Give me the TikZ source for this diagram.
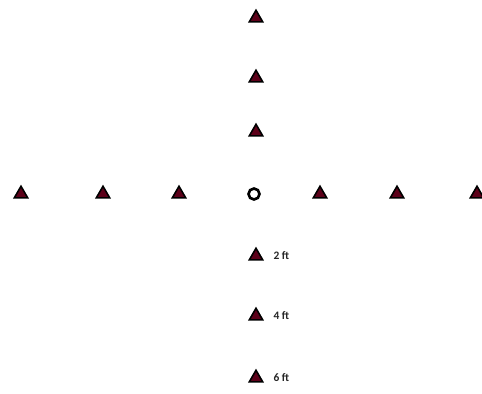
\documentclass[tikz,border=0pt]{standalone}
\usepackage{fontspec}
\setmainfont{Carlito}
\usetikzlibrary{positioning,shapes.geometric}

\begin{document}
\begin{tikzpicture}[
  x=0.02cm,y=-0.02cm,
  flag/.style={regular polygon,regular polygon sides=3,draw=black,line width=0.9pt,
               fill=red!40!black!90!blue,minimum size=0.31cm,inner sep=0pt},
  hub/.style={circle,draw=black,line width=1.5pt,fill=white,minimum size=0.22cm,inner sep=0pt},
  dist/.style={font=\fontsize{6.5}{7}\selectfont\bfseries,text=black!85,right=1.2mm of #1}
]
  \useasboundingbox (0,0) rectangle (482,394);

  % ---------- centro ----------
  \node[hub] (c0) at (254,194) {};

  % ---------- brazo vertical ----------
  \foreach \y/\n in {18/n3,78/n2,132/n1,256/s1,316/s2,378/s3}
    \node[flag] (\n) at (256,\y) {};

  % ---------- brazo horizontal ----------
  \foreach \x/\n in {21/w3,103/w2,179/w1,320/e1,397/e2,477/e3}
    \node[flag] (\n) at (\x,194) {};

  % etiquetas de distancia
  \node[dist=s1] (l1) {2 ft};
  \node[dist=s2] (l2) {4 ft};
  \node[dist=s3] (l3) {6 ft};
\end{tikzpicture}
\end{document}
